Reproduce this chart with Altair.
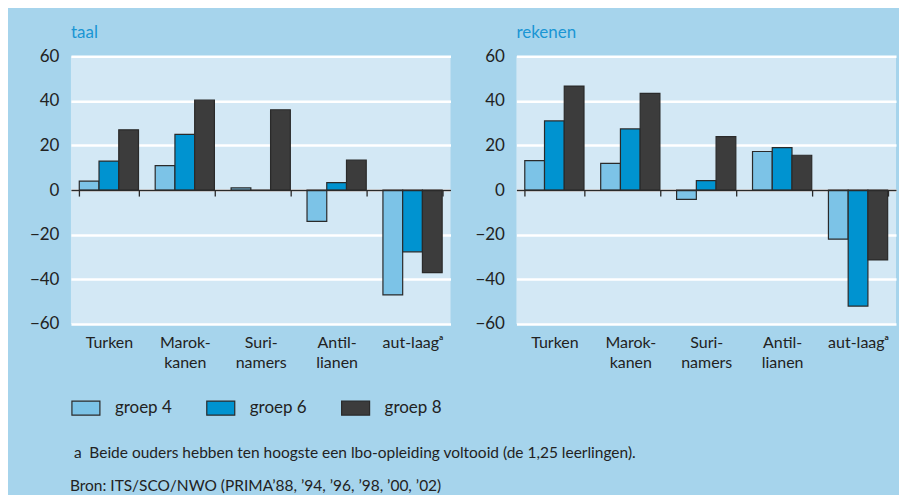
import altair as alt
import pandas as pd

FONT = "Lato, Open Sans, sans-serif"

categories = ["Turken", "Marok-|kanen", "Suri-|namers", "Antil-|lianen", "aut-laagᵃ"]
groups = ["groep 4", "groep 6", "groep 8"]
colors = ["#7cc3e7", "#0093d0", "#3c3c3c"]

taal_g4 = [4, 11, 1, -14, -47]
taal_g6 = [13, 25, 0, 3.3, -27.7]
taal_g8 = [27, 40.3, 36, 13.4, -37]
rek_g4 = [13.2, 12, -4.2, 17.3, -22]
rek_g6 = [31, 27.4, 4.2, 19, -52]
rek_g8 = [46.6, 43.3, 24, 15.6, -31.3]

footnotes = [
    "a\u2002Beide ouders hebben ten hoogste een lbo-opleiding voltooid (de 1,25 leerlingen).",
    "Bron: ITS/SCO/NWO (PRIMA’88, ’94, ’96, ’98, ’00, ’02)",
]

rows = []
for subj, series in [("taal", [taal_g4, taal_g6, taal_g8]), ("rekenen", [rek_g4, rek_g6, rek_g8])]:
    for g, vals in zip(groups, series):
        for c, v in zip(categories, vals):
            rows.append({"subject": subj, "group": g, "category": c, "value": v})
df = pd.DataFrame(rows)

W, H = 380, 268


def panel(subj, with_notes):
    d = df[df["subject"] == subj]
    bars = alt.Chart(d).mark_bar(stroke="#2a2a2a", strokeWidth=1.2).encode(
        x=alt.X(
            "category:N",
            sort=categories,
            scale=alt.Scale(paddingInner=0.22, paddingOuter=0.11),
            axis=alt.Axis(
                title=None, orient="bottom", offset=-H / 2, labelAngle=0,
                labelExpr="datum.value ? split(datum.value, '|') : ''", labelLineHeight=20,
                labelFontSize=16, labelColor="#222", labelFont=FONT,
                labelPadding=139, labelBaseline="top",
                domain=True, domainColor="#2a2a2a", domainWidth=1.5,
                ticks=True, tickBand="extent", tickSize=6, tickColor="#2a2a2a", tickWidth=1.3,
                grid=False, zindex=1,
            ),
        ),
        xOffset=alt.XOffset("group:N", sort=groups),
        y=alt.Y(
            "value:Q",
            scale=alt.Scale(domain=[-60, 60], nice=False, zero=False),
            axis=alt.Axis(
                title=None, values=[-60, -40, -20, 0, 20, 40, 60],
                grid=True, gridColor="white", gridWidth=2.5,
                domain=False, ticks=False, labelPadding=12,
                labelFontSize=17, labelColor="#222", labelFont=FONT,
            ),
        ),
        color=alt.Color(
            "group:N",
            scale=alt.Scale(domain=groups, range=colors),
            legend=alt.Legend(
                title=None, orient="none", legendX=0, legendY=337,
                direction="horizontal",
                symbolType="M-1,-0.5H1V0.5H-1Z", symbolSize=784,
                symbolStrokeColor="#2a2a2a", symbolStrokeWidth=1.2, symbolOpacity=1,
                labelFontSize=17, labelColor="#222", labelFont=FONT,
                labelOffset=14, columnPadding=31,
            ),
        ),
    )
    layers = [bars]
    if with_notes:
        n1 = alt.Chart(pd.DataFrame({"t": [footnotes[0]]})).mark_text(
            align="left", baseline="alphabetic", font=FONT, fontSize=15.5, color="#222"
        ).encode(text="t:N", x=alt.value(3), y=alt.value(402))
        n2 = alt.Chart(pd.DataFrame({"t": [footnotes[1]]})).mark_text(
            align="left", baseline="alphabetic", font=FONT, fontSize=15.5, color="#222"
        ).encode(text="t:N", x=alt.value(-1), y=alt.value(435))
        layers += [n1, n2]
    return alt.layer(*layers).properties(
        width=W, height=H,
        title=alt.TitleParams(
            subj, anchor="start", frame="group", color="#1a96d4",
            fontSize=17, fontWeight="normal", font=FONT, offset=5,
        ),
    )


chart = alt.hconcat(panel("taal", True), panel("rekenen", False), spacing=66, bounds="flush").properties(
    background="#a6d4ec",
    padding={"left": 21, "top": 16, "right": 3, "bottom": 0},
).configure_view(fill="#d3e8f5", strokeWidth=0)

chart.save("out.html", embed_options={"renderer": "svg", "actions": False})
